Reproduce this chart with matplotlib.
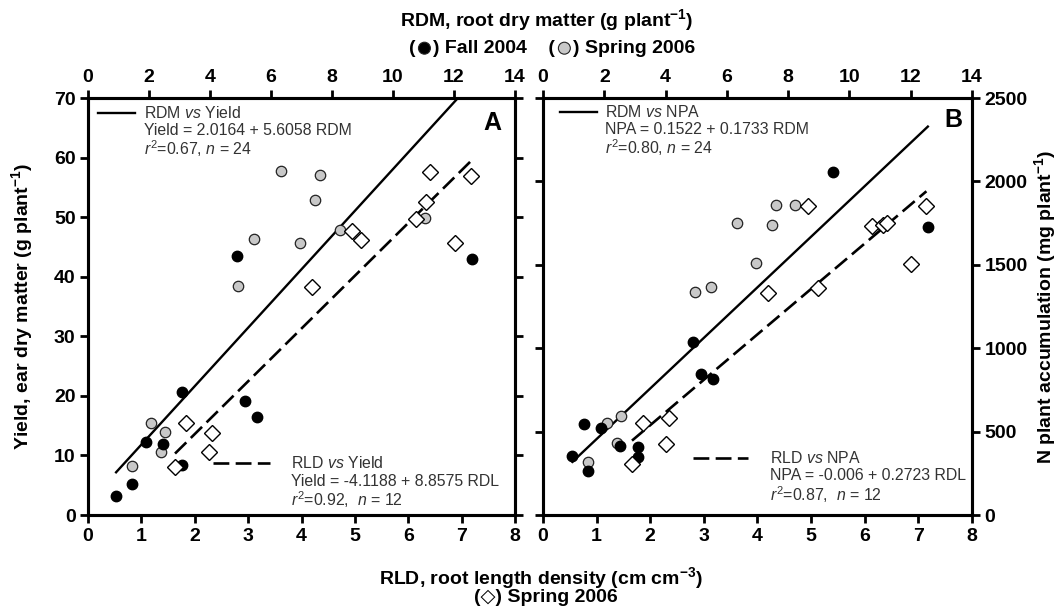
import numpy as np
import matplotlib
matplotlib.use('Agg')
import matplotlib.pyplot as plt
from matplotlib.offsetbox import TextArea, DrawingArea, HPacker, AnnotationBbox
from matplotlib.patches import Circle

plt.rcParams['font.family'] = ['Liberation Sans', 'DejaVu Sans']
plt.rcParams['mathtext.fontset'] = 'custom'
plt.rcParams['mathtext.rm'] = 'Liberation Sans'
plt.rcParams['mathtext.it'] = 'Liberation Sans:italic'
plt.rcParams['mathtext.bf'] = 'Liberation Sans:bold'

# ---- panel A: yield (g plant-1) ----
fall_rdm_a = [0.92, 1.43, 1.89, 2.47, 3.07, 3.07, 4.90, 5.14, 5.53, 12.59]
fall_yield = [3.2, 5.2, 12.2, 11.9, 20.6, 8.4, 43.4, 19.1, 16.4, 42.9]
spring_rdm_a = [1.43, 2.05, 2.52, 2.38, 4.93, 5.45, 6.34, 6.96, 7.43, 7.61, 8.27, 11.05]
spring_yield = [8.3, 15.4, 13.9, 10.6, 38.4, 46.3, 57.7, 45.7, 52.9, 57.1, 47.8, 49.9]
rld_a = [1.63, 1.84, 2.26, 2.32, 4.20, 4.95, 5.12, 6.14, 6.34, 6.40, 6.88, 7.17]
rld_yield = [8.0, 15.4, 10.5, 13.8, 38.2, 47.6, 46.1, 49.7, 52.6, 57.5, 45.6, 56.9]

# ---- panel B: N plant accumulation (mg plant-1) ----
fall_rdm_b = [0.96, 1.33, 1.91, 1.47, 2.51, 3.11, 3.11, 4.90, 5.15, 5.54, 9.45, 12.56]
fall_npa = [353, 547, 519, 264, 413, 409, 349, 1036, 843, 817, 2057, 1725]
spring_rdm_b = [1.47, 2.09, 2.42, 2.56, 4.96, 5.47, 6.34, 6.95, 7.46, 7.61, 8.24, 11.06]
spring_npa = [320, 553, 433, 593, 1336, 1368, 1751, 1508, 1741, 1861, 1861, 1737]
rld_b = [1.66, 1.87, 2.29, 2.35, 4.20, 4.95, 5.12, 6.13, 6.35, 6.41, 6.86, 7.15]
rld_npa = [307, 549, 427, 583, 1332, 1851, 1362, 1735, 1741, 1751, 1502, 1855]

# regression coefficients (intercept, slope) as printed on the figure
fit_rdm_yield = (2.0164, 5.6058)
fit_rld_yield = (-4.1188, 8.8575)
fit_rdm_npa = (0.1522, 0.1733)    # g plant-1
fit_rld_npa = (-0.006, 0.2723)    # g plant-1

TXT = '#333333'
GRAY = '#c8c8c8'
DASH = [6, 2.4]
LBL = 14

fig = plt.figure(figsize=(10.58, 6.10), dpi=100)
axA = fig.add_axes([0.0832, 0.1557, 0.4036, 0.6836])
axB = fig.add_axes([0.5132, 0.1557, 0.4055, 0.6836])


def fit_line(coef, x, scale=1.0):
    xs = np.array([min(x), max(x)])
    return xs, (coef[0] + coef[1] * xs) * scale


def style(ax):
    for s in ax.spines.values():
        s.set_linewidth(2.2)
    ax.tick_params(which='both', direction='out', length=6, width=2,
                   labelsize=LBL, pad=3)
    for lab in ax.get_xticklabels() + ax.get_yticklabels():
        lab.set_fontweight('bold')


def panel(ax, fall_x, fall_y, spr_x, spr_y, rld_x, rld_y, fit_rdm, fit_rld,
          scale, ylim, yticks, right_labels):
    top = ax.twiny()
    top.set_zorder(ax.get_zorder() - 1)
    ax.patch.set_visible(False)

    xs, ys = fit_line(fit_rdm, fall_x + spr_x, scale)
    top.plot(xs, ys, color='black', lw=1.7, zorder=1)
    top.plot(spr_x, spr_y, 'o', ms=7.5, mfc=GRAY, mec='#222222', mew=0.9, zorder=3)
    top.plot(fall_x, fall_y, 'o', ms=7.5, mfc='black', mec='black', zorder=3)

    xs, ys = fit_line(fit_rld, rld_x, scale)
    ax.plot(xs, ys, color='black', lw=1.9, dashes=DASH, zorder=1)
    ax.plot(rld_x, rld_y, 'D', ms=8.5, mfc='white', mec='black', mew=1.0, zorder=3)

    ax.set_xlim(0, 8)
    ax.set_xticks(range(0, 9))
    top.set_xlim(0, 14)
    top.set_xticks(range(0, 15, 2))
    ax.set_ylim(*ylim)
    ax.set_yticks(yticks)
    ax.yaxis.set_ticks_position('both')
    ax.tick_params(axis='y', labelleft=not right_labels, labelright=right_labels)
    style(ax)
    style(top)
    return top


panel(axA, fall_rdm_a, fall_yield, spring_rdm_a, spring_yield, rld_a, rld_yield,
      fit_rdm_yield, fit_rld_yield, 1.0, (0, 70), range(0, 71, 10), False)
panel(axB, fall_rdm_b, fall_npa, spring_rdm_b, spring_npa, rld_b, rld_npa,
      fit_rdm_npa, fit_rld_npa, 1000.0, (0, 2500), range(0, 2501, 500), True)


def note(ax, seg, ys_frac, lines, dashed):
    x0, x1, xt = seg
    kw = dict(dashes=DASH, lw=1.9) if dashed else dict(lw=1.7)
    ax.plot([x0, x1], [ys_frac[0]] * 2, color='black', transform=ax.transAxes,
            clip_on=False, **kw)
    for y, t in zip(ys_frac, lines):
        ax.text(xt, y, t, transform=ax.transAxes, va='center', ha='left',
                fontsize=11.4, color=TXT)


note(axA, (0.023, 0.110, 0.131), (0.964, 0.921, 0.878),
     [r'RDM $\it{vs}$ Yield', 'Yield = 2.0164 + 5.6058 RDM',
      r'$\it{r}^2$=0.67, $\it{n}$ = 24'], False)
note(axA, (0.293, 0.426, 0.475), (0.125, 0.080, 0.036),
     [r'RLD $\it{vs}$ Yield', 'Yield = -4.1188 + 8.8575 RDL',
      r'$\it{r}^2$=0.92,  $\it{n}$ = 12'], True)
note(axB, (0.040, 0.126, 0.145), (0.966, 0.925, 0.880),
     [r'RDM $\it{vs}$ NPA', 'NPA = 0.1522 + 0.1733 RDM',
      r'$\it{r}^2$=0.80, $\it{n}$ = 24'], False)
note(axB, (0.350, 0.478, 0.529), (0.137, 0.094, 0.048),
     [r'RLD $\it{vs}$ NPA', 'NPA = -0.006 + 0.2723 RDL',
      r'$\it{r}^2$=0.87,  $\it{n}$ = 12'], True)

axA.text(0.948, 0.940, 'A', transform=axA.transAxes, ha='center', va='center',
         fontsize=18, fontweight='bold')
axB.text(0.956, 0.947, 'B', transform=axB.transAxes, ha='center', va='center',
         fontsize=18, fontweight='bold')

# axis titles
lab = dict(fontsize=LBL, fontweight='bold', ha='center', va='center')
fig.text(0.021, 0.4975, r'Yield, ear dry matter (g plant$^{\mathbf{-1}}$)',
         rotation=90, **lab)
fig.text(0.9875, 0.4975, r'N plant accumulation (mg plant$^{\mathbf{-1}}$)',
         rotation=90, **lab)
fig.text(0.517, 0.967, r'RDM, root dry matter (g plant$^{\mathbf{-1}}$)', **lab)
fig.text(0.511, 0.052, r'RLD, root length density (cm cm$^{\mathbf{-3}}$)', **lab)
fig.text(0.516, 0.020, '(\u25c7) Spring 2006', **lab)


# marker key for the top axis
def dot(face):
    da = DrawingArea(11, 11, 0, 0)
    da.add_artist(Circle((5.5, 5.5), 4.3, fc=face, ec='#222222', lw=0.8))
    return da


tp = dict(fontsize=LBL, fontweight='bold')
key = HPacker(children=[TextArea('(', textprops=tp), dot('black'),
                        TextArea(') Fall 2004    (', textprops=tp), dot(GRAY),
                        TextArea(') Spring 2006', textprops=tp)],
              align='center', pad=0, sep=1)
fig.add_artist(AnnotationBbox(key, (0.522, 0.921), xycoords='figure fraction',
                              frameon=False, box_alignment=(0.5, 0.5)))

fig.savefig('out.png', dpi=100)
